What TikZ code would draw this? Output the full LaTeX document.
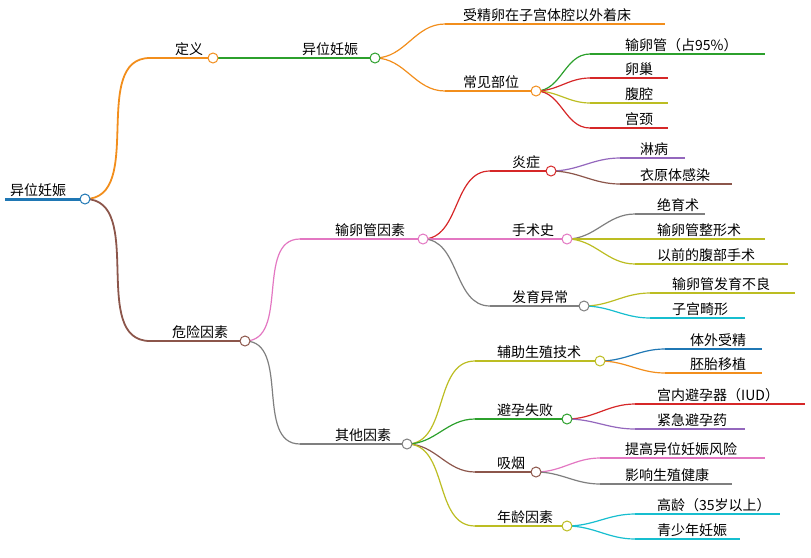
\documentclass[tikz,border=0pt]{standalone}
\usepackage{fontspec}
\setmainfont{Noto Sans CJK SC}
\definecolor{cblue}{HTML}{1F77B4}
\definecolor{corange}{HTML}{F28E1C}
\definecolor{cgreen}{HTML}{2CA02C}
\definecolor{cred}{HTML}{D62728}
\definecolor{cpurple}{HTML}{9467BD}
\definecolor{cbrown}{HTML}{8C564B}
\definecolor{cpink}{HTML}{E377C2}
\definecolor{cgray}{HTML}{7F7F7F}
\definecolor{colive}{HTML}{BCBD22}
\definecolor{ccyan}{HTML}{17BECF}
\tikzset{
  lbl/.style={anchor=south west,inner sep=0pt,font=\fontsize{14}{16}\selectfont},
  knob/.style={circle,draw,fill=white,line width=1pt,inner sep=0pt,minimum size=10pt},
  edge/.style={line width=1.2pt,out=0,in=180}
}
% \topic{name}{line start}{text x}{line end}{y}{colour}{text}
\newcommand{\topic}[7]{%
  \coordinate (#1-s) at (#2,#5);
  \coordinate (#1) at (#4,#5);
  \draw[#6,line width=1.2pt] (#1-s) -- (#1);
  \node[lbl] (#1-t) at (#3,#5-2) {#7};
}
\newcommand{\knot}[2]{\node[knob,draw=#2] at (#1) {};}
\begin{document}
\begin{tikzpicture}[x=1pt,y=-1pt]
\useasboundingbox (0,0) rectangle (811,557);
% level 0 and 1
\topic{root}{5}{10}{85}{199}{cblue}{异位妊娠}
\draw[cblue,line width=3pt] (root-s) -- (root);
\topic{def}{150}{175}{213}{58}{corange}{定义}
\topic{risk}{150}{172}{245}{341}{cbrown}{危险因素}
% definition
\topic{ep}{220}{302}{375}{58}{cgreen}{异位妊娠}
\topic{fert}{445}{463}{665}{24}{corange}{受精卵在子宫体腔以外着床}
\topic{site}{445}{463}{536}{91}{corange}{常见部位}
\topic{s1}{590}{625}{765}{54}{cgreen}{输卵管（占95\%）}
\topic{s2}{590}{625}{668}{78}{cred}{卵巢}
\topic{s3}{590}{625}{668}{103}{colive}{腹腔}
\topic{s4}{590}{625}{668}{128}{cred}{宫颈}
% risk factors
\topic{tube}{300}{335}{423}{239}{cpink}{输卵管因素}
\topic{infl}{490}{512}{551}{171}{cred}{炎症}
\topic{i1}{620}{640}{685}{158}{cpurple}{淋病}
\topic{i2}{620}{640}{732}{184}{cbrown}{衣原体感染}
\topic{surg}{490}{512}{567}{239}{cpink}{手术史}
\topic{u1}{635}{657}{705}{214}{cgray}{绝育术}
\topic{u2}{635}{657}{765}{239}{colive}{输卵管整形术}
\topic{u3}{635}{657}{788}{264}{colive}{以前的腹部手术}
\topic{dev}{490}{512}{584}{306}{cgray}{发育异常}
\topic{d1}{650}{672}{795}{293}{colive}{输卵管发育不良}
\topic{d2}{650}{672}{745}{318}{ccyan}{子宫畸形}
\topic{other}{300}{335}{407}{444}{cgray}{其他因素}
\topic{art}{475}{497}{600}{361}{colive}{辅助生殖技术}
\topic{a1}{665}{690}{762}{349}{cblue}{体外受精}
\topic{a2}{665}{690}{762}{373}{corange}{胚胎移植}
\topic{cont}{475}{497}{567}{419}{cgreen}{避孕失败}
\topic{c1}{635}{657}{805}{404}{cred}{宫内避孕器（IUD）}
\topic{c2}{635}{657}{745}{429}{cpurple}{紧急避孕药}
\topic{smok}{475}{497}{536}{472}{cbrown}{吸烟}
\topic{k1}{600}{625}{765}{458}{cpink}{提高异位妊娠风险}
\topic{k2}{600}{625}{732}{484}{cgray}{影响生殖健康}
\topic{age}{475}{497}{567}{526}{colive}{年龄因素}
\topic{g1}{635}{657}{780}{514}{ccyan}{高龄（35岁以上）}
\topic{g2}{635}{657}{740}{539}{ccyan}{青少年妊娠}
% connectors
\draw[edge,corange,line width=1.8pt] (root) to (def-s);
\draw[edge,cbrown,line width=1.8pt] (root) to (risk-s);
\draw[edge,cgreen] (def) to (ep-s);
\foreach \c/\k in {fert/corange,site/corange} \draw[edge,\k] (ep) to (\c-s);
\foreach \c/\k in {s1/cgreen,s2/cred,s3/colive,s4/cred} \draw[edge,\k] (site) to (\c-s);
\foreach \c/\k in {tube/cpink,other/cgray} \draw[edge,\k] (risk) to (\c-s);
\foreach \c/\k in {infl/cred,surg/cpink,dev/cgray} \draw[edge,\k] (tube) to (\c-s);
\foreach \c/\k in {i1/cpurple,i2/cbrown} \draw[edge,\k] (infl) to (\c-s);
\foreach \c/\k in {u1/cgray,u2/colive,u3/colive} \draw[edge,\k] (surg) to (\c-s);
\foreach \c/\k in {d1/colive,d2/ccyan} \draw[edge,\k] (dev) to (\c-s);
\foreach \c/\k in {art/colive,cont/cgreen,smok/cbrown,age/colive} \draw[edge,\k] (other) to (\c-s);
\foreach \c/\k in {a1/cblue,a2/corange} \draw[edge,\k] (art) to (\c-s);
\foreach \c/\k in {c1/cred,c2/cpurple} \draw[edge,\k] (cont) to (\c-s);
\foreach \c/\k in {k1/cpink,k2/cgray} \draw[edge,\k] (smok) to (\c-s);
\foreach \c/\k in {g1/ccyan,g2/ccyan} \draw[edge,\k] (age) to (\c-s);
% knobs
\knot{root}{cblue}\knot{def}{corange}\knot{risk}{cbrown}\knot{ep}{cgreen}
\knot{site}{corange}\knot{tube}{cpink}\knot{infl}{cred}\knot{surg}{cpink}
\knot{dev}{cgray}\knot{other}{cgray}\knot{art}{colive}\knot{cont}{cgreen}
\knot{smok}{cbrown}\knot{age}{colive}
\end{tikzpicture}
\end{document}
